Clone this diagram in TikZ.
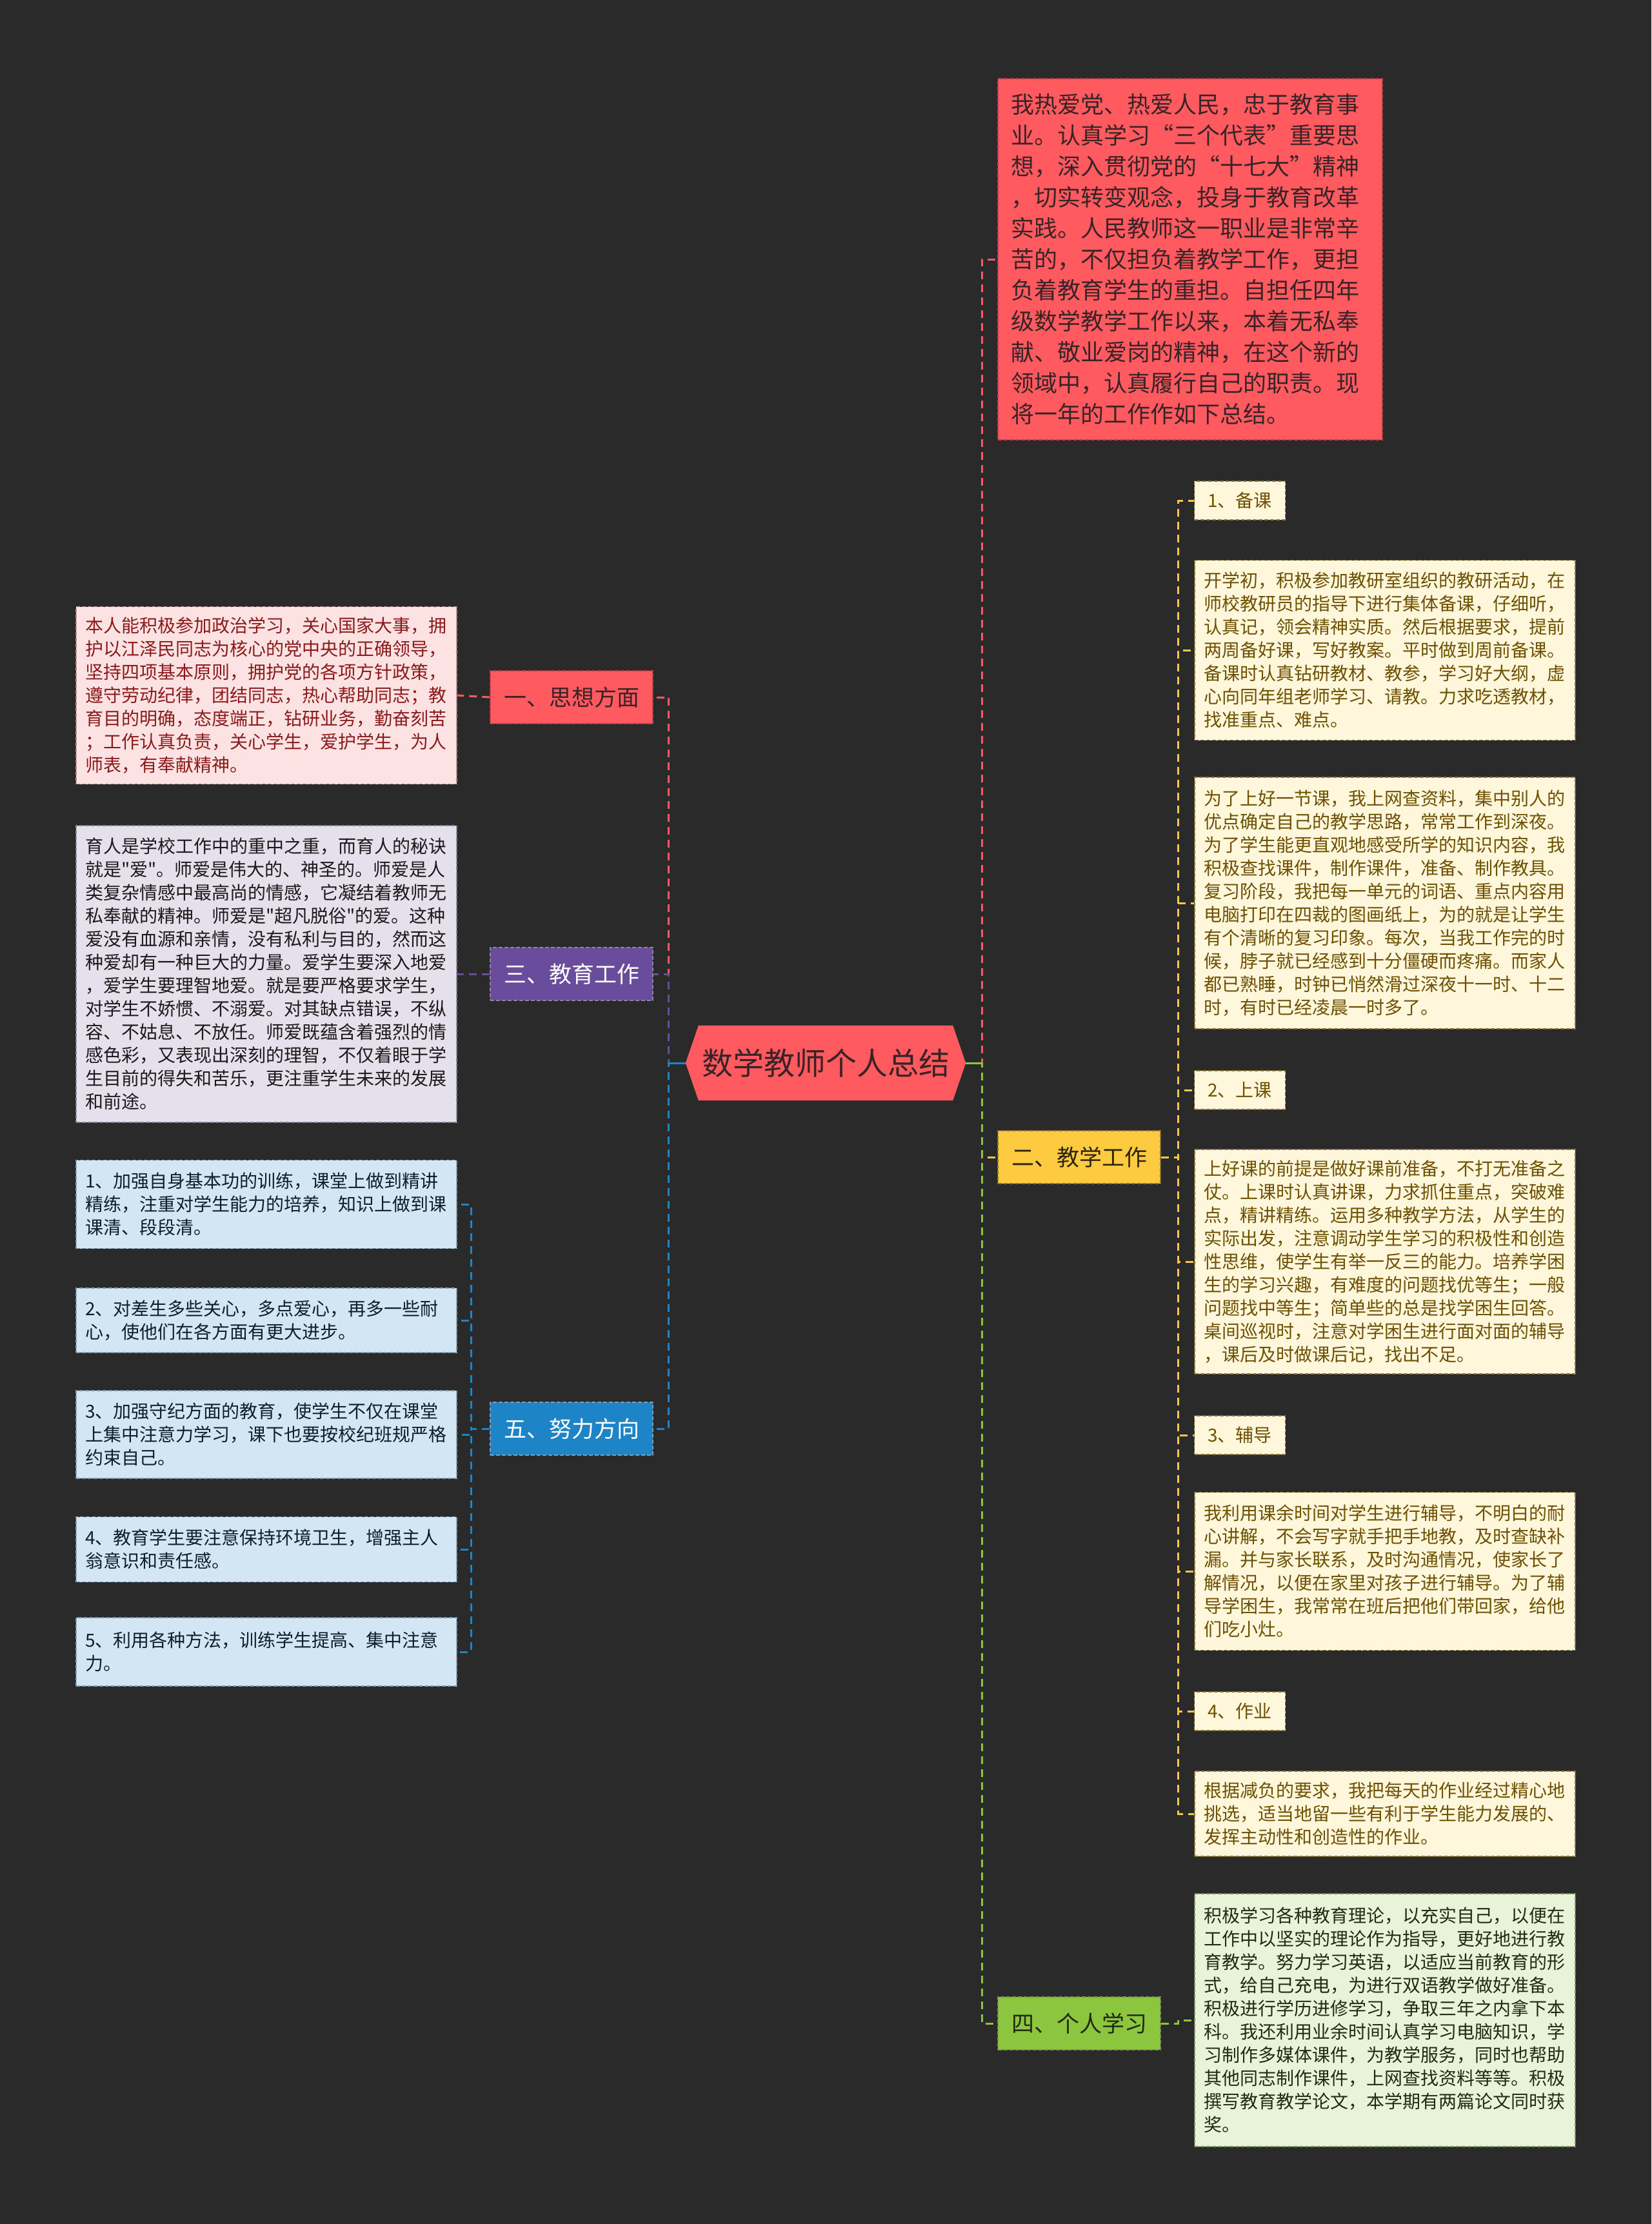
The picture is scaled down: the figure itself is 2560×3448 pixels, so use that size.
\documentclass[tikz,border=0pt]{standalone}
\usepackage{fontspec}
\setmainfont{Noto Sans CJK SC}[Ligatures=TeXOff]
\usetikzlibrary{backgrounds}

\definecolor{bgdark}{HTML}{2A2A2A}
\definecolor{topicred}{HTML}{FF5A5F}
\definecolor{redtext}{HTML}{3A2326}
\definecolor{redline}{HTML}{B8404A}
\definecolor{goldfill}{HTML}{FDCA40}
\definecolor{goldline}{HTML}{F2C94C}
\definecolor{goldtext}{HTML}{2E2510}
\definecolor{creamfill}{HTML}{FEF7DC}
\definecolor{creamline}{HTML}{8E7434}
\definecolor{creamtext}{HTML}{6E5000}
\definecolor{leaf}{HTML}{8CC63F}
\definecolor{leaffill}{HTML}{E8F3D8}
\definecolor{leafline}{HTML}{7C9058}
\definecolor{leaftext}{HTML}{222A14}
\definecolor{pinkfill}{HTML}{FDE2E3}
\definecolor{pinkline}{HTML}{B08888}
\definecolor{pinktext}{HTML}{8B1A1A}
\definecolor{purplebr}{HTML}{6A4C9C}
\definecolor{lavfill}{HTML}{E4E0EC}
\definecolor{lavline}{HTML}{8C8498}
\definecolor{lavtext}{HTML}{1A1A1A}
\definecolor{bluebr}{HTML}{1E84C8}
\definecolor{bluefill}{HTML}{D3E6F3}
\definecolor{blueline}{HTML}{7E9CB0}
\definecolor{bluetext}{HTML}{101E2A}

\begin{document}
\begin{tikzpicture}[x=1pt, y=-1pt,
    link/.style={line width=3pt, dash pattern=on 12pt off 8pt},
    card/.style={rectangle, line width=1.5pt, dash pattern=on 6pt off 3pt, align=left,
        inner xsep=14pt, inner ysep=0pt, text width=562pt, font=\fontsize{28}{36}\selectfont},
    creamcard/.style={card, fill=creamfill, draw=creamline, text=creamtext},
    pinkcard/.style={card, fill=pinkfill, draw=pinkline, text=pinktext},
    lavcard/.style={card, fill=lavfill, draw=lavline, text=lavtext},
    bluecard/.style={card, fill=bluefill, draw=blueline, text=bluetext},
    leafcard/.style={card, fill=leaffill, draw=leafline, text=leaftext},
    topic/.style={rectangle, line width=1.5pt, dash pattern=on 6pt off 3pt, minimum width=252pt,
        minimum height=82pt, inner sep=0pt, font=\fontsize{35}{42}\selectfont},
    tag/.style={rectangle, fill=creamfill, draw=creamline, text=creamtext, line width=1.5pt,
        dash pattern=on 6pt off 3pt, minimum width=141pt, minimum height=60pt, inner sep=0pt,
        font=\fontsize{28}{34}\selectfont}]

    \useasboundingbox (0,0) rectangle (2560,3448);
    \begin{scope}[on background layer]
        \fill[bgdark] (0,0) rectangle (2560,3448);
    \end{scope}

    % centre
    \node[minimum width=434pt, minimum height=116pt, inner sep=0pt, text=redtext,
        font=\fontsize{48}{56}\selectfont] (root) at (1280,1648) {数学教师个人总结};
    \begin{scope}[on background layer]
        \fill[topicred] (root.west) -- ([xshift=20pt]root.north west) -- ([xshift=-20pt]root.north east)
            -- (root.east) -- ([xshift=-20pt]root.south east) -- ([xshift=20pt]root.south west) -- cycle;
    \end{scope}

    % right side
    \node[card, fill=topicred, draw=redline, text=redtext, text width=556pt, inner xsep=20pt,
        minimum height=560pt, font=\fontsize{36}{48}\selectfont] (intro) at (1845,402) {%
        我热爱党、热爱人民，忠于教育事\\
        业。认真学习“三个代表”重要思\\
        想，深入贯彻党的“十七大”精神\\
        ，切实转变观念，投身于教育改革\\
        实践。人民教师这一职业是非常辛\\
        苦的，不仅担负着教学工作，更担\\
        负着教育学生的重担。自担任四年\\
        级数学教学工作以来，本着无私奉\\
        献、敬业爱岗的精神，在这个新的\\
        领域中，认真履行自己的职责。现\\
        将一年的工作作如下总结。};

    \node[topic, fill=goldfill, draw=creamline, text=goldtext] (jiaoxue) at (1673,1794) {二、教学工作};
    \node[topic, fill=leaf, draw=leafline, text=leaftext] (xuexi) at (1673,3137) {四、个人学习};

    \node[tag] (beike) at (1922,776) {1、备课};
    \node[creamcard, minimum height=279pt] (beikeA) at (2147,1008) {%
        开学初，积极参加教研室组织的教研活动，在\\
        师校教研员的指导下进行集体备课，仔细听，\\
        认真记，领会精神实质。然后根据要求，提前\\
        两周备好课，写好教案。平时做到周前备课。\\
        备课时认真钻研教材、教参，学习好大纲，虚\\
        心向同年组老师学习、请教。力求吃透教材，\\
        找准重点、难点。};
    \node[creamcard, minimum height=390pt] (beikeB) at (2147,1400) {%
        为了上好一节课，我上网查资料，集中别人的\\
        优点确定自己的教学思路，常常工作到深夜。\\
        为了学生能更直观地感受所学的知识内容，我\\
        积极查找课件，制作课件，准备、制作教具。\\
        复习阶段，我把每一单元的词语、重点内容用\\
        电脑打印在四裁的图画纸上，为的就是让学生\\
        有个清晰的复习印象。每次，当我工作完的时\\
        候，脖子就已经感到十分僵硬而疼痛。而家人\\
        都已熟睡，时钟已悄然滑过深夜十一时、十二\\
        时，有时已经凌晨一时多了。};

    \node[tag] (shangke) at (1922,1690) {2、上课};
    \node[creamcard, minimum height=348pt] (shangkeA) at (2147,1956) {%
        上好课的前提是做好课前准备，不打无准备之\\
        仗。上课时认真讲课，力求抓住重点，突破难\\
        点，精讲精练。运用多种教学方法，从学生的\\
        实际出发，注意调动学生学习的积极性和创造\\
        性思维，使学生有举一反三的能力。培养学困\\
        生的学习兴趣，有难度的问题找优等生；一般\\
        问题找中等生；简单些的总是找学困生回答。\\
        桌间巡视时，注意对学困生进行面对面的辅导\\
        ，课后及时做课后记，找出不足。};

    \node[tag] (fudao) at (1922,2225) {3、辅导};
    \node[creamcard, minimum height=245pt] (fudaoA) at (2147,2436) {%
        我利用课余时间对学生进行辅导，不明白的耐\\
        心讲解，不会写字就手把手地教，及时查缺补\\
        漏。并与家长联系，及时沟通情况，使家长了\\
        解情况，以便在家里对孩子进行辅导。为了辅\\
        导学困生，我常常在班后把他们带回家，给他\\
        们吃小灶。};

    \node[tag] (zuoye) at (1922,2653) {4、作业};
    \node[creamcard, minimum height=132pt] (zuoyeA) at (2147,2812) {%
        根据减负的要求，我把每天的作业经过精心地\\
        挑选，适当地留一些有利于学生能力发展的、\\
        发挥主动性和创造性的作业。};

    \node[leafcard, minimum height=392pt] (xuexiA) at (2147,3132) {%
        积极学习各种教育理论，以充实自己，以便在\\
        工作中以坚实的理论作为指导，更好地进行教\\
        育教学。努力学习英语，以适应当前教育的形\\
        式，给自己充电，为进行双语教学做好准备。\\
        积极进行学历进修学习，争取三年之内拿下本\\
        科。我还利用业余时间认真学习电脑知识，学\\
        习制作多媒体课件，为教学服务，同时也帮助\\
        其他同志制作课件，上网查找资料等等。积极\\
        撰写教育教学论文，本学期有两篇论文同时获\\
        奖。};

    % left side
    \node[topic, fill=topicred, draw=redline, text=redtext] (sixiang) at (886,1081) {一、思想方面};
    \node[topic, fill=purplebr, draw=lavline, text=white] (jiaoyu) at (886,1510) {三、教育工作};
    \node[topic, fill=bluebr, draw=blueline, text=white] (nuli) at (886,2215) {五、努力方向};

    \node[pinkcard, minimum height=275pt] (sixiangA) at (413,1078) {%
        本人能积极参加政治学习，关心国家大事，拥\\
        护以江泽民同志为核心的党中央的正确领导，\\
        坚持四项基本原则，拥护党的各项方针政策，\\
        遵守劳动纪律，团结同志，热心帮助同志；教\\
        育目的明确，态度端正，钻研业务，勤奋刻苦\\
        ；工作认真负责，关心学生，爱护学生，为人\\
        师表，有奉献精神。};
    \node[lavcard, minimum height=460pt] (jiaoyuA) at (413,1510) {%
        育人是学校工作中的重中之重，而育人的秘诀\\
        就是"爱"。师爱是伟大的、神圣的。师爱是人\\
        类复杂情感中最高尚的情感，它凝结着教师无\\
        私奉献的精神。师爱是"超凡脱俗"的爱。这种\\
        爱没有血源和亲情，没有私利与目的，然而这\\
        种爱却有一种巨大的力量。爱学生要深入地爱\\
        ，爱学生要理智地爱。就是要严格要求学生，\\
        对学生不娇惯、不溺爱。对其缺点错误，不纵\\
        容、不姑息、不放任。师爱既蕴含着强烈的情\\
        感色彩，又表现出深刻的理智，不仅着眼于学\\
        生目前的得失和苦乐，更注重学生未来的发展\\
        和前途。};

    \node[bluecard, minimum height=137pt] (nuliA) at (413,1867) {%
        1、加强自身基本功的训练，课堂上做到精讲\\
        精练，注重对学生能力的培养，知识上做到课\\
        课清、段段清。};
    \node[bluecard, minimum height=100pt] (nuliB) at (413,2047) {%
        2、对差生多些关心，多点爱心，再多一些耐\\
        心，使他们在各方面有更大进步。};
    \node[bluecard, minimum height=136pt] (nuliC) at (413,2224) {%
        3、加强守纪方面的教育，使学生不仅在课堂\\
        上集中注意力学习，课下也要按校纪班规严格\\
        约束自己。};
    \node[bluecard, minimum height=101pt] (nuliD) at (413,2402) {%
        4、教育学生要注意保持环境卫生，增强主人\\
        翁意识和责任感。};
    \node[bluecard, minimum height=106pt] (nuliE) at (413,2561) {%
        5、利用各种方法，训练学生提高、集中注意\\
        力。};

    % connectors, right
    \draw[link, topicred] (root.east) -- ++(25,0) |- (intro.west);
    \draw[link, goldline] (root.east) -- ++(25,0) |- (jiaoxue.west);
    \draw[link, leaf] (root.east) -- ++(25,0) |- (xuexi.west);
    \draw[line width=3pt, leaf] (root.east) -- ++(25,0);
    \foreach \k in {beike, beikeA, beikeB, shangke, shangkeA, fudao, fudaoA, zuoye, zuoyeA}
        \draw[link, goldline] (jiaoxue.east) -- ++(27,0) |- (\k.west);
    \draw[link, leaf] (xuexi.east) -- ++(27,0) |- (xuexiA.west);

    % connectors, left
    \draw[link, topicred] (root.west) -- ++(-26,0) |- (sixiang.east);
    \draw[link, purplebr] (root.west) -- ++(-26,0) |- (jiaoyu.east);
    \draw[link, bluebr] (root.west) -- ++(-26,0) |- (nuli.east);
    \draw[line width=3pt, bluebr] (root.west) -- ++(-26,0);
    \draw[link, topicred] (sixiang.west) -- (sixiangA.east);
    \draw[link, purplebr] (jiaoyu.west) -- (jiaoyuA.east);
    \foreach \k in {nuliA, nuliB, nuliC, nuliD, nuliE}
        \draw[link, bluebr] (nuli.west) -- ++(-29,0) |- (\k.east);
\end{tikzpicture}
\end{document}
